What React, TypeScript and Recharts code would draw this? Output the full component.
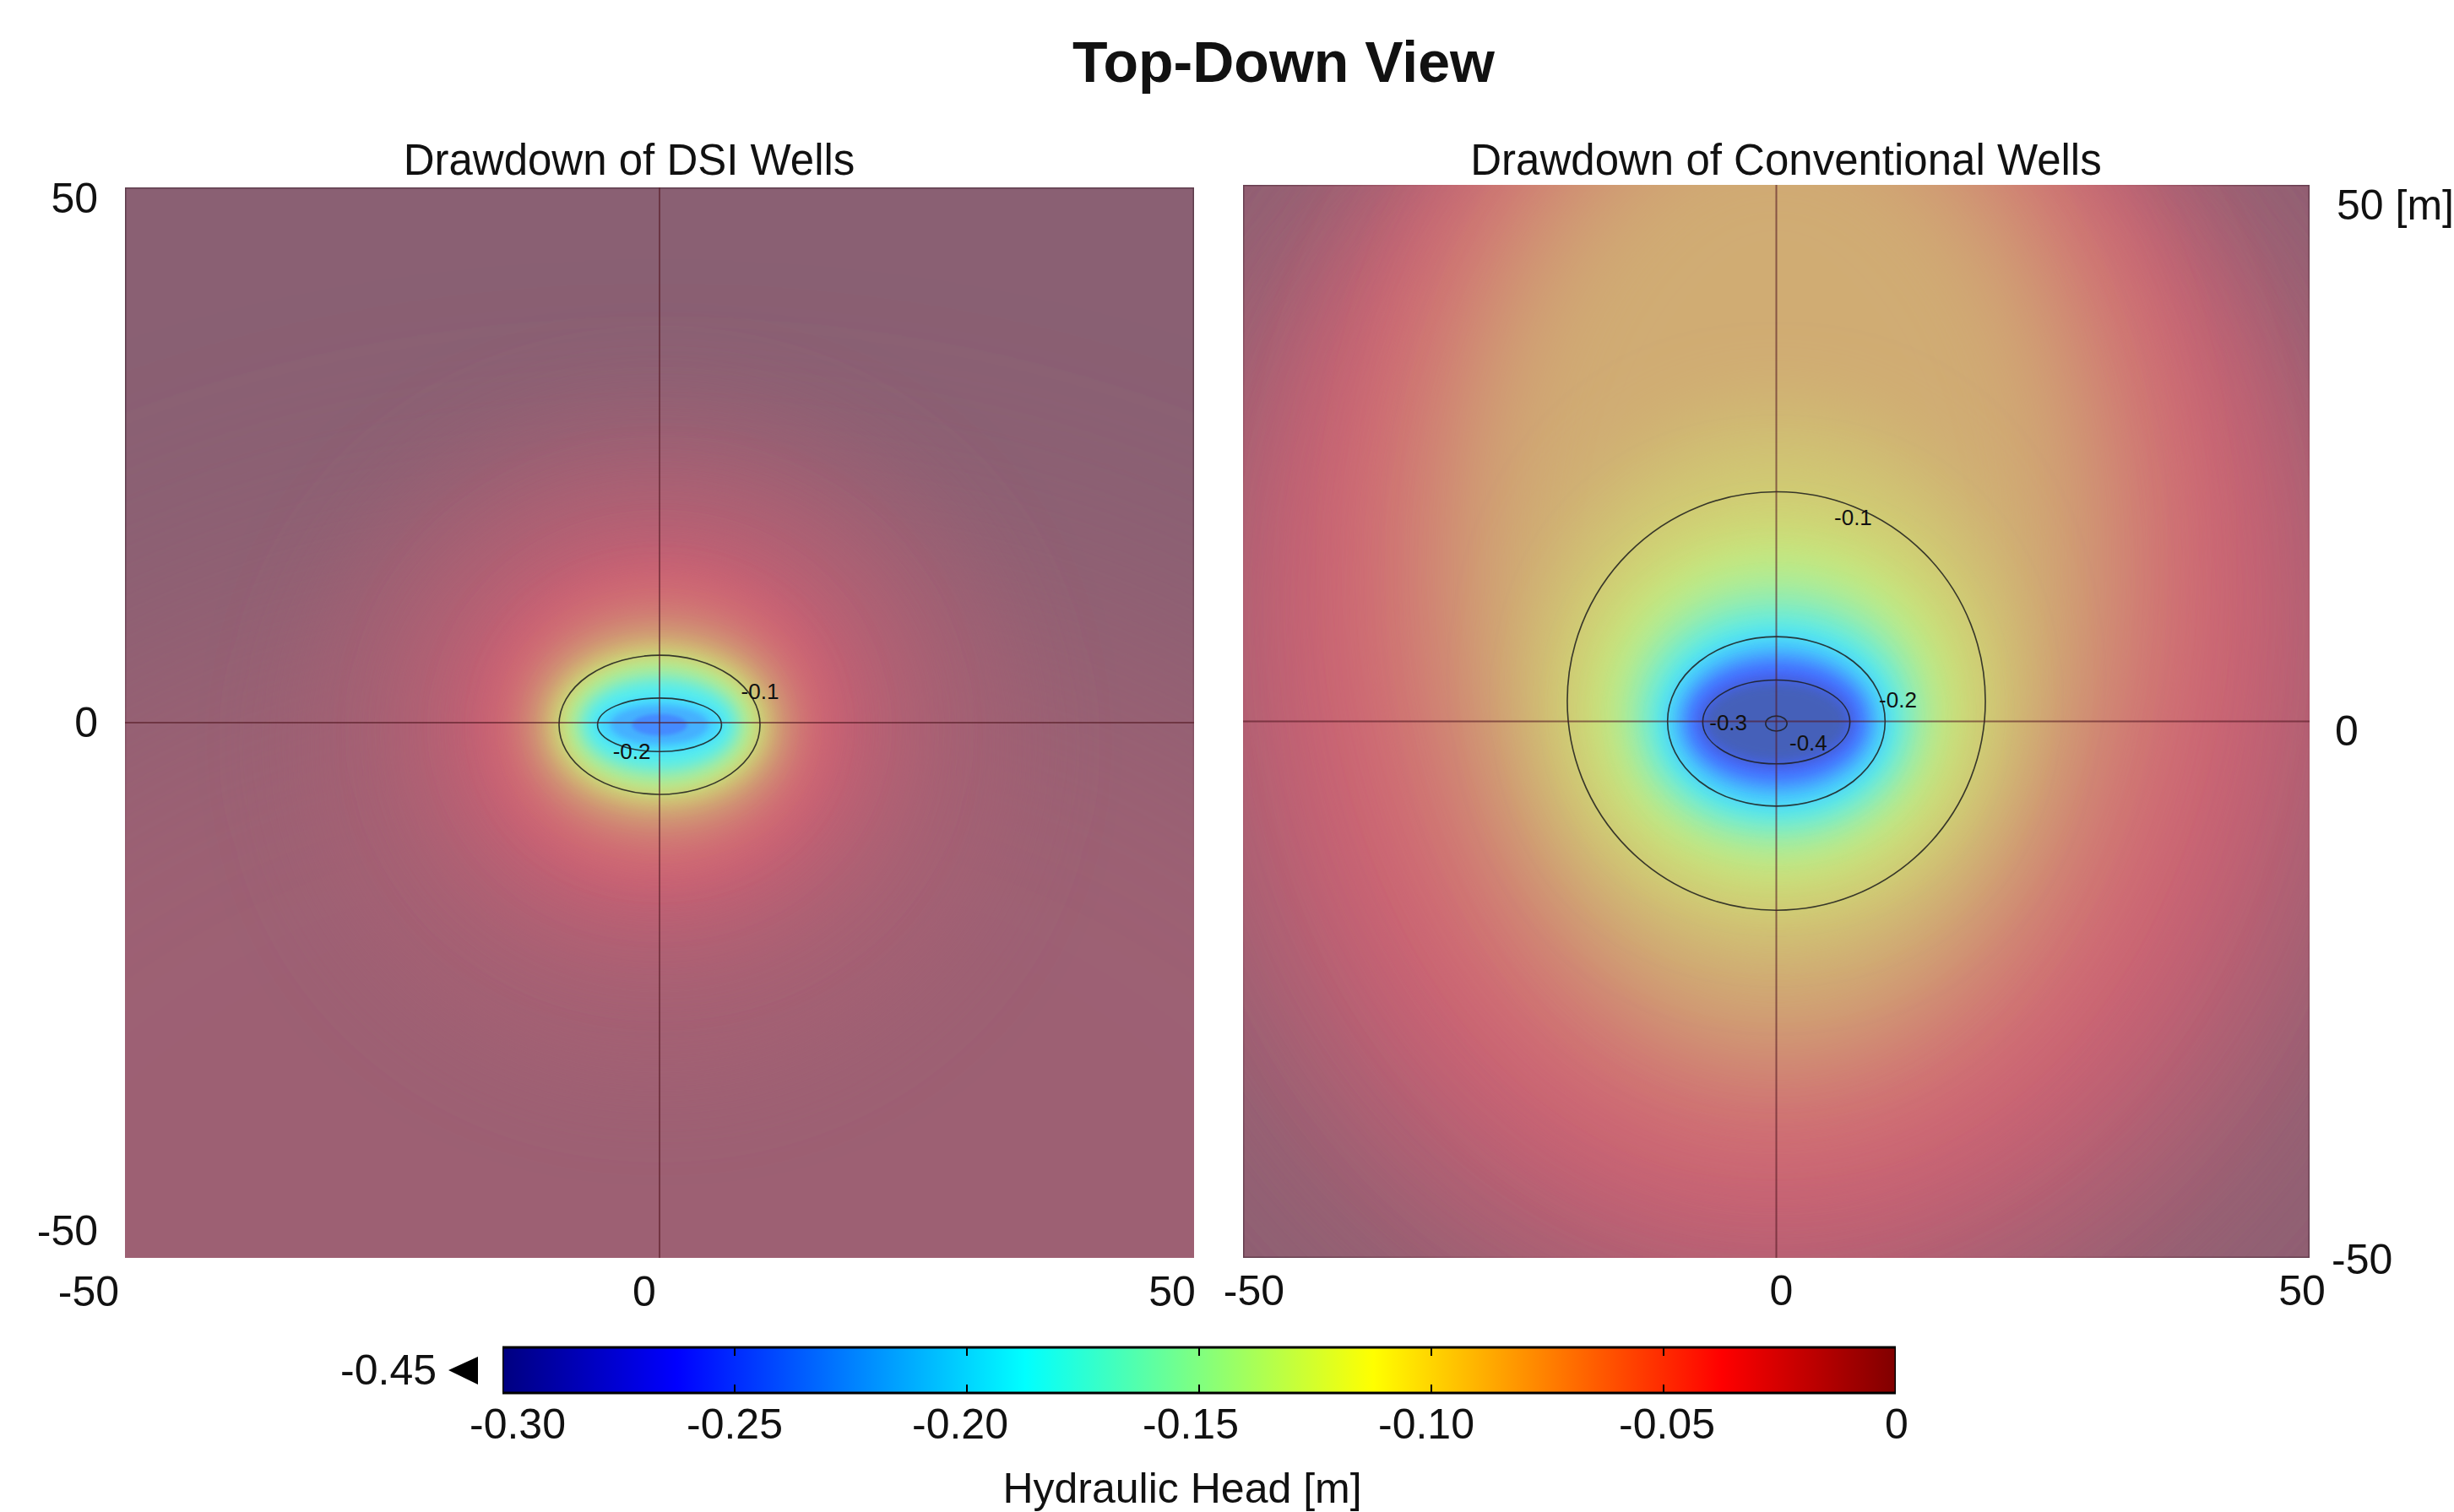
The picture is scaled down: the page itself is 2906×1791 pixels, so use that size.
import React from 'react';
import { ComposedChart, XAxis, YAxis, ReferenceArea, ReferenceLine, Scatter, Bar } from 'recharts';

const FONT = '"Liberation Sans", Arial, Helvetica, sans-serif';

const AXIS_TICKS = [-50, 0, 50];
const CBAR_TICKS = [-0.3, -0.25, -0.2, -0.15, -0.1, -0.05, 0];
const CBAR_MIN = -0.3;
const CBAR_MAX = 0;
const CBAR_UNDER = -0.45;
const cbarData = [{ name: 'Hydraulic Head [m]', range: [CBAR_MIN, CBAR_MAX] }];

// DSI wells: isolevels, outermost first (value in m, half-widths and centre in m)
const dsiLevels = [-0.01, -0.015, -0.025, -0.037, -0.05, -0.07, -0.09, -0.1, -0.12, -0.15, -0.18, -0.2, -0.22, -0.24];
const dsiRx = [95, 32, 23, 17, 14, 12, 10.4, 9.4, 8.8, 8.0, 7.0, 5.8, 4.6, 2.6];
const dsiRy = [75, 30, 21, 15.5, 12.5, 9.5, 7.6, 6.5, 6.0, 5.2, 4.0, 2.5, 1.8, 1.0];
const dsiCy = [-60, -2, -0.5, -0.3, -0.2, -0.2, -0.2, -0.2, -0.2, -0.2, -0.2, -0.2, -0.2, -0.2];
const dsiFar = 0;
const dsiLabelX = [9.4, -2.6];
const dsiLabelY = [2.9, -2.7];
const dsiLabelText = ['-0.1', '-0.2'];

// Conventional wells
const convLevels = [-0.012, -0.025, -0.038, -0.05, -0.065, -0.078, -0.09, -0.1, -0.12, -0.14, -0.16, -0.18, -0.2, -0.23, -0.26, -0.3, -0.4];
const convRx = [56, 52, 45, 38, 32, 27, 22.5, 19.6, 16.5, 14, 12.5, 11.2, 10.2, 9.2, 8.2, 6.9, 1.0];
const convRy = [60, 58, 56, 52, 48, 42, 25, 19.5, 15.5, 12.5, 10.5, 9, 7.9, 6.6, 5.4, 3.9, 0.7];
const convCy = [0, 4, 10, 13, 16, 14, 4, 1.9, 1.2, 0.8, 0.4, 0.2, 0, 0, 0, -0.05, -0.2];
const convFar = -0.002;
const convLabelX = [7.2, 11.4, -4.5, 3.0];
const convLabelY = [19.0, 2.0, -0.1, -2.0];
const convLabelText = ['-0.1', '-0.2', '-0.3', '-0.4'];

// the plot is drawn semi-transparent over a pale blue backdrop
const BACKDROP = [151, 213, 255];
const ALPHA = 0.55;

const jet = (v: number) => {
  const t = Math.min(1, Math.max(0, (v - CBAR_MIN) / (CBAR_MAX - CBAR_MIN)));
  const c = (k: number) => Math.round(255 * Math.min(1, Math.max(0, 1.5 - Math.abs(4 * t - k))));
  return [c(3), c(2), c(1)];
};
const rgb = (c: number[]) => `rgb(${c.join(',')})`;
const washed = (v: number) =>
  rgb(jet(v).map((x, i) => Math.round(ALPHA * x + (1 - ALPHA) * BACKDROP[i])));

const isContour = (v: number) => Math.abs(v * 10 - Math.round(v * 10)) < 1e-9;

type Ring = { v: number; rx: number; ry: number; cy: number };
const makeRings = (lv: number[], rx: number[], ry: number[], cy: number[]): Ring[] =>
  lv.map((v, i) => ({ v, rx: rx[i], ry: ry[i], cy: cy[i] }));
const makeLabels = (xs: number[], ys: number[], txt: string[]) =>
  xs.map((x, i) => ({ x, y: ys[i], text: txt[i] }));

const makeTick = (offsets: Record<string, number[]>, anchor: string, fmt?: (v: number) => string) =>
  (props: any) => {
    const { x, y, payload } = props;
    const o = offsets[String(payload.value)] || [0, 0];
    return (
      <text x={x + o[0]} y={y + o[1]} textAnchor={anchor} dominantBaseline="central"
        fontSize={50} fontFamily={FONT} fill="#111">
        {fmt ? fmt(payload.value) : String(payload.value)}
      </text>
    );
  };

const blurEllipse = (id: string, fill: string) => (p: any) => {
  const w = Math.abs(p.width), h = Math.abs(p.height);
  const sd = Math.max(1.5, 0.16 * Math.min(w, h) / 2);
  return (
    <g clipPath={p.clipPath}>
      <defs>
        <filter id={id} x="-60%" y="-60%" width="220%" height="220%">
          <feGaussianBlur stdDeviation={sd} />
        </filter>
      </defs>
      <ellipse cx={p.x + w / 2} cy={p.y + h / 2} rx={w / 2} ry={h / 2} fill={fill} filter={`url(#${id})`} />
    </g>
  );
};

const contourEllipse = (p: any) => {
  const w = Math.abs(p.width), h = Math.abs(p.height);
  return (
    <g clipPath={p.clipPath}>
      <ellipse cx={p.x + w / 2} cy={p.y + h / 2} rx={w / 2} ry={h / 2}
        fill="none" stroke="#1c1c1c" strokeOpacity={0.85} strokeWidth={1.6} />
    </g>
  );
};

const labelShape = (p: any) => (
  <text x={p.cx} y={p.cy} textAnchor="middle" dominantBaseline="central"
    fontSize={26} fontFamily={FONT} fill="#111">{p.payload.text}</text>
);

interface PanelProps {
  id: string;
  rings: Ring[];
  far: number;
  labels: { x: number; y: number; text: string }[];
  width: number;
  height: number;
  margin: { top: number; right: number; bottom: number; left: number };
  yRight?: boolean;
  xOffsets: Record<string, number[]>;
  yOffsets: Record<string, number[]>;
}

function FieldPanel({ id, rings, far, labels, width, height, margin, yRight, xOffsets, yOffsets }: PanelProps) {
  return (
    <ComposedChart width={width} height={height} margin={margin} data={labels}>
      <XAxis type="number" dataKey="x" domain={[-50, 50]} ticks={AXIS_TICKS} allowDataOverflow
        axisLine={false} tickLine={false} tickSize={0} tickMargin={0} height={60} interval={0}
        tick={makeTick(xOffsets, 'middle')} />
      <YAxis type="number" dataKey="y" domain={[-50, 50]} ticks={AXIS_TICKS} allowDataOverflow
        orientation={yRight ? 'right' : 'left'} width={yRight ? 160 : 60}
        axisLine={false} tickLine={false} tickSize={0} tickMargin={0} interval={0}
        tick={makeTick(yOffsets, yRight ? 'start' : 'end', yRight ? (v) => (v === 50 ? '50 [m]' : String(v)) : undefined)} />
      <ReferenceArea x1={-50} x2={50} y1={-50} y2={50} fill={washed(far)} fillOpacity={1}
        stroke="rgb(75,45,60)" strokeOpacity={0.7} strokeWidth={3} ifOverflow="hidden" />
      {rings.map((r, i) => (
        <ReferenceArea key={`f${i}`} x1={-r.rx} x2={r.rx} y1={r.cy - r.ry} y2={r.cy + r.ry}
          ifOverflow="hidden" shape={blurEllipse(`${id}-blur-${i}`, washed(r.v))} />
      ))}
      {rings.filter((r) => isContour(r.v)).map((r, i) => (
        <ReferenceArea key={`c${i}`} x1={-r.rx} x2={r.rx} y1={r.cy - r.ry} y2={r.cy + r.ry}
          ifOverflow="hidden" shape={contourEllipse} />
      ))}
      <ReferenceLine x={0} stroke="rgb(85,25,35)" strokeOpacity={0.6} strokeWidth={2} />
      <ReferenceLine y={0} stroke="rgb(85,25,35)" strokeOpacity={0.6} strokeWidth={2} />
      <Scatter data={labels} isAnimationActive={false} shape={labelShape} />
    </ComposedChart>
  );
}

const jetBar = (p: any) => {
  const stops = [0, 0.125, 0.25, 0.375, 0.5, 0.625, 0.75, 0.875, 1];
  return (
    <g>
      <defs>
        <linearGradient id="jetbar" x1="0" y1="0" x2="1" y2="0">
          {stops.map((s) => (
            <stop key={s} offset={s} stopColor={rgb(jet(CBAR_MIN + s * (CBAR_MAX - CBAR_MIN)))} />
          ))}
        </linearGradient>
      </defs>
      <rect x={p.x} y={p.y} width={p.width} height={p.height} fill="url(#jetbar)" stroke="#000" strokeWidth={3} />
    </g>
  );
};

const cbarOffsets: Record<string, number[]> = {
  '-0.3': [18, 37], '-0.25': [0, 37], '-0.2': [-8, 37], '-0.15': [-10, 37],
  '-0.1': [-6, 37], '-0.05': [4, 37], '0': [1, 37],
};

function ColorBar() {
  return (
    <ComposedChart layout="vertical" data={cbarData} width={2000} height={260}
      margin={{ top: 56, right: 155, bottom: 90, left: 195 }} barCategoryGap={0}>
      <XAxis type="number" domain={[CBAR_MIN, CBAR_MAX]} ticks={CBAR_TICKS} allowDataOverflow
        axisLine={false} tickLine={false} tickSize={0} tickMargin={0} height={60} interval={0}
        tick={makeTick(cbarOffsets, 'middle', (v) => (v === 0 ? '0' : v.toFixed(2)))} />
      <YAxis type="category" dataKey="name" hide />
      <Bar dataKey="range" isAnimationActive={false} shape={jetBar} />
      {CBAR_TICKS.slice(1, -1).map((t) => (
        <ReferenceLine key={t} x={t} stroke="#000" strokeWidth={2} strokeDasharray="10 34 10" />
      ))}
    </ComposedChart>
  );
}

export default function App() {
  const dsiRings = makeRings(dsiLevels, dsiRx, dsiRy, dsiCy);
  const convRings = makeRings(convLevels, convRx, convRy, convCy);
  const abs = (extra: React.CSSProperties): React.CSSProperties => ({ position: 'absolute', ...extra });
  return (
    <div style={{ position: 'absolute', left: 0, top: 0, width: 2906, height: 1791, background: '#fff',
      fontFamily: FONT, color: '#111', overflow: 'hidden' }}>
      <div style={abs({ left: 0, top: 0 })}>
        <FieldPanel id="dsi" rings={dsiRings} far={dsiFar}
          labels={makeLabels(dsiLabelX, dsiLabelY, dsiLabelText)}
          width={1440} height={1600} margin={{ top: 222, right: 26, bottom: 50, left: 88 }}
          xOffsets={{ '-50': [-43, 40], '0': [-18, 40], '50': [-26, 40] }}
          yOffsets={{ '50': [-32, 13], '0': [-32, 0], '-50': [-32, -32] }} />
      </div>
      <div style={abs({ left: 1440, top: 0 })}>
        <FieldPanel id="conv" rings={convRings} far={convFar}
          labels={makeLabels(convLabelX, convLabelY, convLabelText)}
          width={1466} height={1600} margin={{ top: 219, right: 11, bottom: 50, left: 32 }} yRight
          xOffsets={{ '-50': [13, 39], '0': [6, 39], '50': [-9, 39] }}
          yOffsets={{ '50': [32, 24], '0': [30, 11], '-50': [26, 2] }} />
      </div>
      <div style={abs({ left: 400, top: 1540 })}>
        <ColorBar />
      </div>

      <div style={abs({ left: 1020, width: 1000, top: 35, textAlign: 'center', fontSize: 68, fontWeight: 'bold', lineHeight: '76px' })}>
        Top-Down View
      </div>
      <div style={abs({ left: 295, width: 900, top: 162, textAlign: 'center', fontSize: 51, lineHeight: '56px' })}>
        Drawdown of DSI Wells
      </div>
      <div style={abs({ left: 1665, width: 900, top: 162, textAlign: 'center', fontSize: 51, lineHeight: '56px' })}>
        Drawdown of Conventional Wells
      </div>
      <div style={abs({ left: 317, width: 200, top: 1595, textAlign: 'right', fontSize: 50, lineHeight: '56px' })}>
        {CBAR_UNDER.toFixed(2)}
      </div>
      <svg style={abs({ left: 525, top: 1600 })} width={50} height={50}>
        <polygon points="6,23 41,7 41,40" fill="#000" />
      </svg>
      <div style={abs({ left: 1100, width: 600, top: 1735, textAlign: 'center', fontSize: 50, lineHeight: '56px' })}>
        Hydraulic Head [m]
      </div>
    </div>
  );
}
